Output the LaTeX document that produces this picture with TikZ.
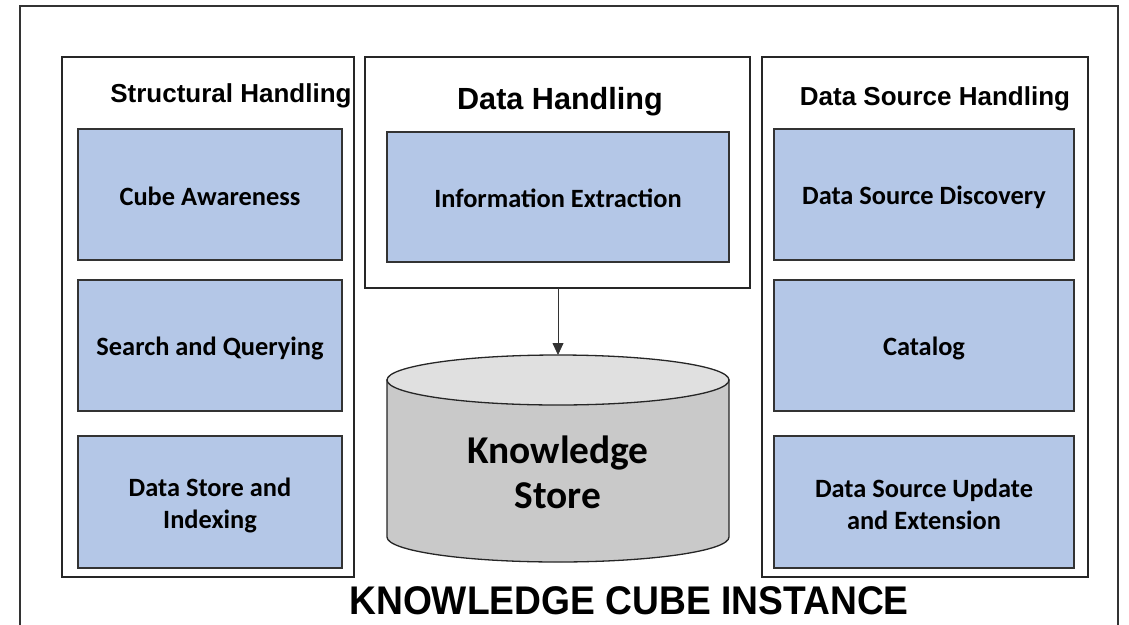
\documentclass[tikz,border=0pt]{standalone}
\usepackage{fontspec}
\setmainfont{Liberation Sans}
\newfontfamily\calfont{Carlito}
\newfontfamily\narrowfont[FakeStretch=0.93]{Liberation Sans}
\usetikzlibrary{arrows.meta,shapes.geometric}
\definecolor{boxblue}{HTML}{B4C7E7}
\definecolor{cylbody}{HTML}{C9C9C9}
\definecolor{cyltop}{HTML}{E0E0E0}
\begin{document}
\begin{tikzpicture}[x=1pt,y=-1pt,
  panel/.style={draw=black!85,line width=1.6pt},
  funcbox/.style={draw=black!80,line width=1.3pt,fill=boxblue},
  boxtext/.style={font=\calfont\bfseries\fontsize{26.4}{32}\selectfont,align=center},
  title/.style={font=\bfseries\fontsize{26}{30}\selectfont}]
\useasboundingbox (0,0) rectangle (1129,624);
% outer frame (open at the bottom)
\draw[line width=1.6pt,black!80] (20,628) -- (20,6) -- (1118,6) -- (1118,628);
% panels
\draw[panel] (62,57) rectangle (354,577);
\draw[panel] (365,57) rectangle (750,288);
\draw[panel] (762,57) rectangle (1088,577);
% titles
\node[title] (tstruct) at (231,96) {Structural Handling};
\node[title,font=\bfseries\fontsize{30.6}{34}\selectfont] (tdata) at (560,102) {Data Handling};
\node[title] (tsource) at (935,99) {Data Source Handling};
% left boxes
\node[funcbox,minimum width=264pt,minimum height=131pt] (cube) at (210,194.5) {};
\node[boxtext] at ([yshift=-2pt]cube) {Cube Awareness};
\node[funcbox,minimum width=264pt,minimum height=131pt] (search) at (210,345.5) {};
\node[boxtext] at ([yshift=-2.5pt]search) {Search and Querying};
\node[funcbox,minimum width=264pt,minimum height=132pt] (store) at (210,502) {};
\node[boxtext] at ([yshift=-3.5pt]store) {Data Store and\\Indexing};
% middle box
\node[funcbox,minimum width=342pt,minimum height=130pt] (info) at (558,197) {};
\node[boxtext] at ([yshift=-1.5pt]info) {Information Extraction};
% right boxes
\node[funcbox,minimum width=300pt,minimum height=131pt] (disc) at (924,194.5) {};
\node[boxtext] at ([yshift=-3pt]disc) {Data Source Discovery};
\node[funcbox,minimum width=300pt,minimum height=131pt] (cat) at (924,345.5) {};
\node[boxtext] at ([yshift=-2.5pt]cat) {Catalog};
\node[funcbox,minimum width=300pt,minimum height=132pt] (upd) at (924,502) {};
\node[boxtext] at ([yshift=-2.5pt]upd) {Data Source Update\\and Extension};
% cylinder
\draw[line width=1.3pt,black!85,fill=cylbody] (387,380) -- (387,537) arc[start angle=180,end angle=360,x radius=171pt,y radius=25pt] -- (729,380) -- cycle;
\draw[line width=1.3pt,black!85,fill=cyltop] (558,380) ellipse[x radius=171pt,y radius=25pt];
\coordinate (cyltopc) at (558,355);
\node[font=\calfont\bfseries\fontsize{39.4}{45}\selectfont,align=center] (ks) at (558,472) {Knowledge\\Store};
% arrow
\coordinate (midbot) at (558,288);
\draw[line width=0.8pt,black!80,-{Triangle[length=12pt,width=11pt]}] (midbot) -- (cyltopc);
% caption
\node[inner sep=0pt,font=\narrowfont\bfseries\fontsize{40}{46}\selectfont] (cap) at (629,601) {KNOWLEDGE CUBE INSTANCE};
\end{tikzpicture}
\end{document}
